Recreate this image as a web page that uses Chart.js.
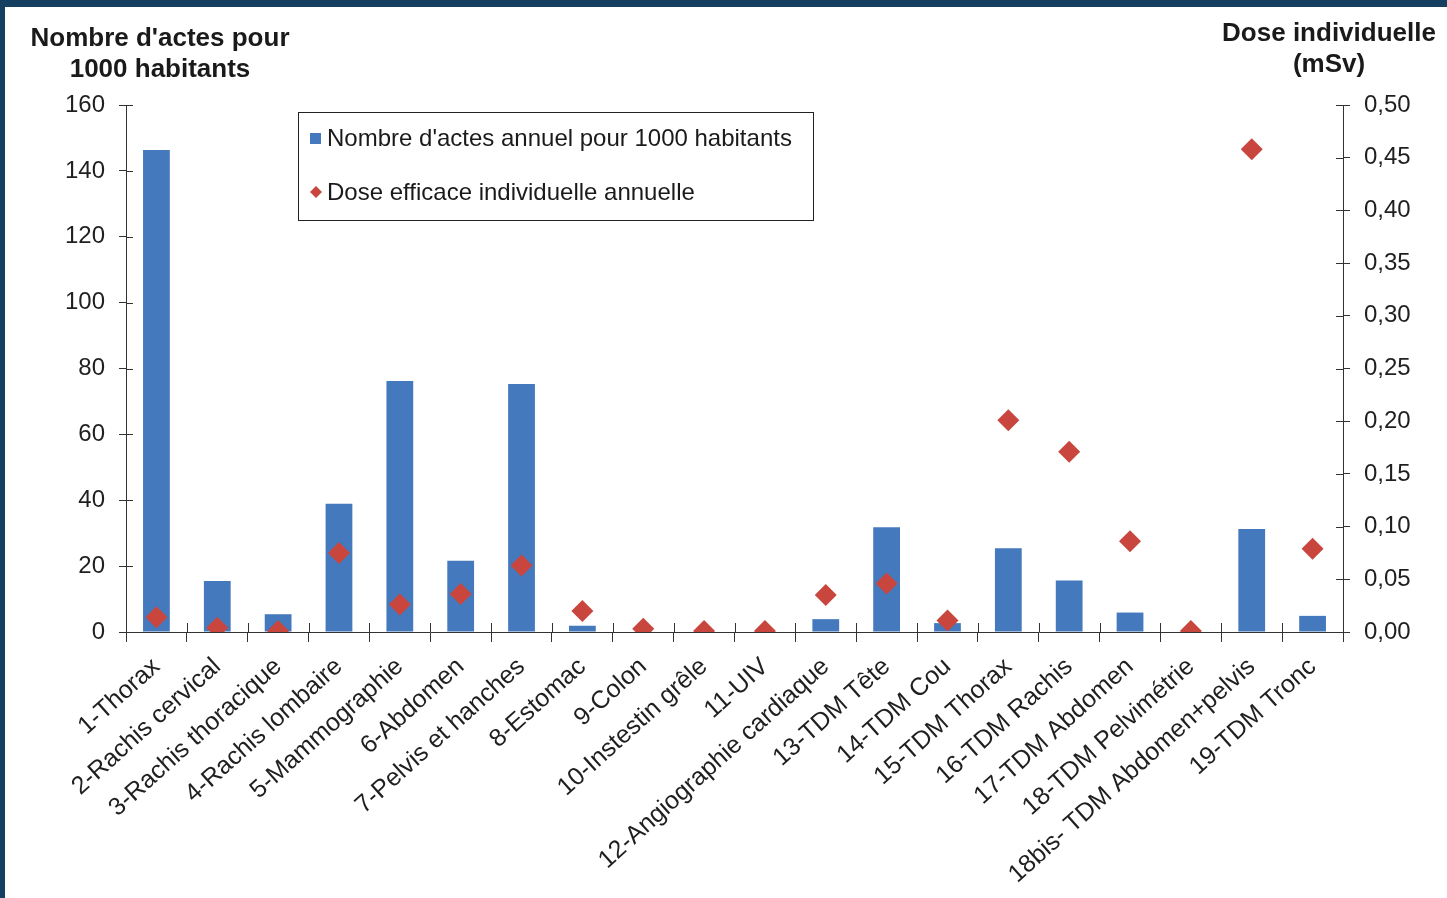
<!DOCTYPE html>
<html lang="fr">
<head>
<meta charset="utf-8">
<title>Actes et dose efficace individuelle</title>
<script src="https://cdn.jsdelivr.net/npm/chart.js@4.4.1/dist/chart.umd.min.js"></script>
<style>
    html, body {
        margin: 0;
        padding: 0;
        background: #143f60;
        overflow: hidden;
    }
    #cadre {
        position: absolute;
        left: 5px;
        top: 7px;
        width: 1442px;
        height: 891px;
        background: #ffffff;
    }
</style>
</head>
<body>
<div id="cadre">
    <canvas id="graphique" width="1442" height="891"></canvas>
</div>
<script>
// Catégories d'examens
const categories = [
    '1-Thorax', '2-Rachis cervical', '3-Rachis thoracique', '4-Rachis lombaire',
    '5-Mammographie', '6-Abdomen', '7-Pelvis et hanches', '8-Estomac', '9-Colon',
    '10-Instestin grêle', '11-UIV', '12-Angiographie cardiaque', '13-TDM Tête',
    '14-TDM Cou', '15-TDM Thorax', '16-TDM Rachis', '17-TDM Abdomen',
    '18-TDM Pelvimétrie', '18bis- TDM Abdomen+pelvis', '19-TDM Tronc'
];

// Nombre d'actes annuel pour 1000 habitants
const nombreActes = [
    146.3, 15.5, 5.4, 38.9, 76.2, 21.6, 75.3, 1.9, 0, 0,
    0, 3.9, 31.8, 2.7, 25.4, 15.6, 5.9, 0, 31.3, 4.9
];

// Dose efficace individuelle annuelle (mSv)
const doseIndividuelle = [
    0.014, 0.004, 0.001, 0.075, 0.026, 0.036, 0.063, 0.020, 0.003, 0.001,
    0.001, 0.035, 0.046, 0.011, 0.201, 0.171, 0.086, 0.001, 0.458, 0.079
];

// Graduations des deux axes
const ticksActes = [0, 20, 40, 60, 80, 100, 120, 140, 160];
const ticksDose = [0, 0.05, 0.10, 0.15, 0.20, 0.25, 0.30, 0.35, 0.40, 0.45, 0.50];

const libelleActes = "Nombre d'actes annuel pour 1000 habitants";
const libelleDose = 'Dose efficace individuelle annuelle';

const BLEU = '#4579bd';
const ROUGE = '#c9463f';
const AXE = '#333333';
const POLICE = "'Liberation Sans', Arial, sans-serif";

// Petits traits des graduations côté intérieur (l'extérieur est dessiné par Chart.js)
const traitsInterieurs = {
    id: 'traitsInterieurs',
    afterDraw(chart) {
        const ctx = chart.ctx;
        const a = chart.chartArea;
        ctx.save();
        ctx.strokeStyle = AXE;
        ctx.lineWidth = 1;
        chart.scales.y.ticks.forEach((t, i) => {
            const py = Math.round(chart.scales.y.getPixelForTick(i)) + 0.5;
            ctx.beginPath();
            ctx.moveTo(a.left, py);
            ctx.lineTo(a.left + 7, py);
            ctx.stroke();
        });
        chart.scales.y1.ticks.forEach((t, i) => {
            const py = Math.round(chart.scales.y1.getPixelForTick(i)) + 0.5;
            ctx.beginPath();
            ctx.moveTo(a.right - 7, py);
            ctx.lineTo(a.right, py);
            ctx.stroke();
        });
        const largeur = (a.right - a.left) / categories.length;
        for (let i = 0; i <= categories.length; i++) {
            const px = Math.round(a.left + i * largeur) + 0.5;
            ctx.beginPath();
            ctx.moveTo(px, a.bottom - 9);
            ctx.lineTo(px, a.bottom);
            ctx.stroke();
        }
        ctx.restore();
    }
};

// Titres des axes (horizontaux, au-dessus de chaque axe)
const titresAxes = {
    id: 'titresAxes',
    afterDraw(chart) {
        const ctx = chart.ctx;
        ctx.save();
        ctx.fillStyle = '#1a1a1a';
        ctx.font = 'bold 26px ' + POLICE;
        ctx.textAlign = 'center';
        ctx.textBaseline = 'middle';
        ctx.fillText("Nombre d'actes pour", 155, 32);
        ctx.fillText('1000 habitants', 155, 63);
        ctx.fillText('Dose individuelle', 1324, 27);
        ctx.fillText('(mSv)', 1324, 58);
        ctx.restore();
    }
};

// Légende encadrée placée dans la zone du graphique
const legendeCadre = {
    id: 'legendeCadre',
    afterDraw(chart) {
        const ctx = chart.ctx;
        const x = 293, y = 105, w = 515, h = 108;
        ctx.save();
        ctx.strokeStyle = '#222';
        ctx.lineWidth = 1;
        ctx.fillStyle = '#ffffff';
        ctx.fillRect(x, y, w, h);
        ctx.strokeRect(x + 0.5, y + 0.5, w, h);

        const ds = chart.data.datasets;
        ctx.font = '24px ' + POLICE;
        ctx.textBaseline = 'middle';
        ctx.textAlign = 'left';

        // Carré bleu pour les barres
        ctx.fillStyle = ds[1].backgroundColor;
        ctx.fillRect(305, 126, 11, 11);
        ctx.fillStyle = '#1a1a1a';
        ctx.fillText(ds[1].label, 322, 132);

        // Losange rouge pour les doses
        ctx.fillStyle = ds[0].backgroundColor;
        ctx.beginPath();
        ctx.moveTo(311, 179);
        ctx.lineTo(317, 185);
        ctx.lineTo(311, 191);
        ctx.lineTo(305, 185);
        ctx.closePath();
        ctx.fill();
        ctx.fillStyle = '#1a1a1a';
        ctx.fillText(ds[0].label, 322, 186);
        ctx.restore();
    }
};

const ctx = document.getElementById('graphique').getContext('2d');
const graphique = new Chart(ctx, {
    type: 'bar',
    data: {
        labels: categories,
        datasets: [
            {
                type: 'line',
                label: libelleDose,
                data: doseIndividuelle,
                yAxisID: 'y1',
                showLine: false,
                pointStyle: 'rectRot',
                pointRadius: 11,
                pointHoverRadius: 11,
                backgroundColor: ROUGE,
                borderColor: ROUGE,
                borderWidth: 0,
                order: 0
            },
            {
                type: 'bar',
                label: libelleActes,
                data: nombreActes,
                yAxisID: 'y',
                backgroundColor: BLEU,
                borderWidth: 0,
                categoryPercentage: 1,
                barPercentage: 0.44,
                order: 1
            }
        ]
    },
    options: {
        responsive: false,
        animation: false,
        layout: {
            padding: { top: 98, left: 0, right: 0, bottom: 0 }
        },
        plugins: {
            legend: { display: false },
            tooltip: { enabled: false },
            title: { display: false }
        },
        scales: {
            x: {
                offset: true,
                afterFit(scale) { scale.height = 266; },
                border: { display: true, color: AXE, width: 1 },
                grid: {
                    display: true,
                    offset: true,
                    drawOnChartArea: false,
                    drawTicks: true,
                    tickLength: 10,
                    color: AXE
                },
                ticks: {
                    autoSkip: false,
                    minRotation: 42,
                    maxRotation: 42,
                    padding: 10,
                    color: '#1f1f1f',
                    font: { family: POLICE, size: 25 }
                }
            },
            y: {
                position: 'left',
                min: 0,
                max: 160,
                afterFit(scale) { scale.width = 121; },
                afterBuildTicks(scale) {
                    scale.ticks = ticksActes.map(v => ({ value: v }));
                },
                border: { display: true, color: AXE, width: 1 },
                grid: {
                    drawOnChartArea: false,
                    drawTicks: true,
                    tickLength: 7,
                    color: AXE
                },
                ticks: {
                    padding: 14,
                    color: '#1f1f1f',
                    font: { family: POLICE, size: 24 }
                }
            },
            y1: {
                position: 'right',
                min: 0,
                max: 0.5,
                afterFit(scale) { scale.width = 104; },
                afterBuildTicks(scale) {
                    scale.ticks = ticksDose.map(v => ({ value: v }));
                },
                border: { display: true, color: AXE, width: 1 },
                grid: {
                    drawOnChartArea: false,
                    drawTicks: true,
                    tickLength: 7,
                    color: AXE
                },
                ticks: {
                    padding: 14,
                    color: '#1f1f1f',
                    font: { family: POLICE, size: 24 },
                    callback: v => v.toFixed(2).replace('.', ',')
                }
            }
        }
    },
    plugins: [traitsInterieurs, titresAxes, legendeCadre]
});
</script>
</body>
</html>
